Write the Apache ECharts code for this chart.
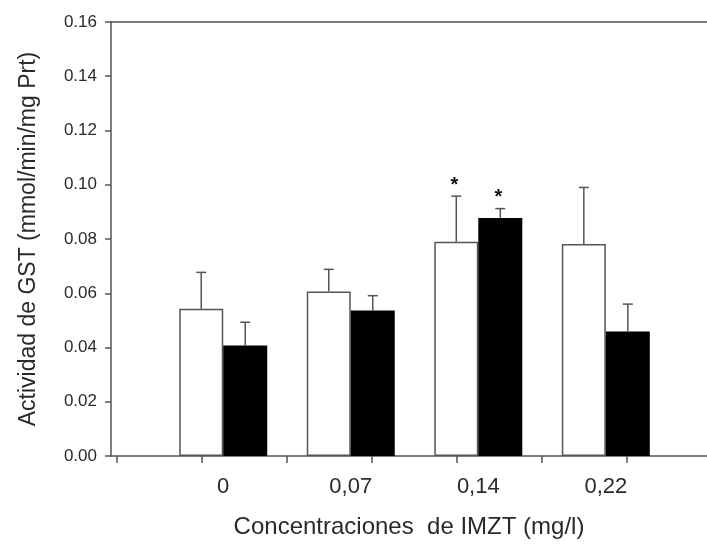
<!DOCTYPE html>
<html>
<head>
<meta charset="utf-8">
<script src="https://cdn.jsdelivr.net/npm/echarts@6/dist/echarts.min.js"></script>
<style>
  html, body { margin: 0; padding: 0; background: #fff; }
  #chart { width: 707px; height: 544px; }
</style>
</head>
<body>
<div id="chart"></div>
<script>
  // categories sit between the plain numeric ticks of the original axis
  const categories = ['0', '0,07', '0,14', '0,22'];
  const catPos = [1.25, 2.75, 4.25, 5.75];
  const xTicks = [0, 1, 2, 3, 4, 5, 6];

  const whiteMean = [0.0543, 0.0606, 0.0790, 0.0782];
  const whiteErr = [0.0134, 0.0082, 0.0168, 0.0208];
  const whiteSig = [false, false, true, false];

  const blackMean = [0.0407, 0.0536, 0.0877, 0.0459];
  const blackErr = [0.0086, 0.0055, 0.0035, 0.0101];
  const blackSig = [false, false, true, false];

  const BAR_W = 44;
  const lineColor = '#555';
  const textColor = '#2a2a2a';
  const font = 'Liberation Sans, Arial, sans-serif';

  function errSeries(mean, err, sig, side) {
    return {
      type: 'custom',
      xAxisIndex: 0,
      yAxisIndex: 0,
      z: 3,
      data: mean.map(function (m, i) { return [catPos[i], m, m + err[i], sig[i] ? 1 : 0]; }),
      renderItem: function (params, api) {
        let base = api.coord([api.value(0), api.value(1)]);
        let top = api.coord([api.value(0), api.value(2)]);
        let x = base[0] + side * BAR_W / 2;
        let style = { stroke: lineColor, lineWidth: 1.5 };
        let children = [
          { type: 'line', shape: { x1: x, y1: base[1], x2: x, y2: top[1] }, style: style },
          { type: 'line', shape: { x1: x - 5, y1: top[1], x2: x + 5, y2: top[1] }, style: style }
        ];
        if (api.value(3)) {
          children.push({
            type: 'text',
            style: {
              text: '*', x: x - 2, y: top[1] - 1,
              align: 'center', verticalAlign: 'bottom',
              font: 'bold 20px ' + font, fill: '#111'
            }
          });
        }
        return { type: 'group', children: children };
      }
    };
  }

  const chart = echarts.init(document.getElementById('chart'));
  chart.setOption({
    animation: false,
    backgroundColor: '#fff',
    grid: { left: 111, top: 22, width: 596, height: 438 },
    xAxis: [{
      type: 'value',
      min: -0.07,
      max: 6.94,
      position: 'bottom',
      name: 'Concentraciones  de IMZT (mg/l)',
      nameLocation: 'middle',
      nameGap: 59,
      nameTextStyle: { fontFamily: font, fontSize: 24, color: textColor },
      axisLine: { onZero: false, lineStyle: { color: lineColor, width: 1.5 } },
      axisTick: { show: true, customValues: xTicks, length: 7, inside: false,
                  lineStyle: { color: lineColor, width: 1.5 } },
      axisLabel: {
        customValues: catPos,
        margin: 20,
        fontFamily: font, fontSize: 22, color: textColor,
        formatter: function (v) {
          let i = catPos.findIndex(function (p) { return Math.abs(p - v) < 1e-6; });
          return i >= 0 ? categories[i] : '';
        }
      },
      splitLine: { show: false }
    }, {
      type: 'value',
      min: -0.07,
      max: 6.94,
      position: 'top',
      axisLine: { show: true, onZero: false, lineStyle: { color: lineColor, width: 1.5 } },
      axisTick: { show: false },
      axisLabel: { show: false },
      splitLine: { show: false }
    }],
    yAxis: {
      type: 'value',
      min: 0,
      max: 0.16,
      interval: 0.02,
      name: 'Actividad de GST (mmol/min/mg Prt)',
      nameLocation: 'middle',
      nameGap: 71,
      nameTextStyle: { fontFamily: font, fontSize: 23, color: textColor },
      axisLine: { show: true, onZero: false, lineStyle: { color: lineColor, width: 1.5 } },
      axisTick: { show: true, length: 6, lineStyle: { color: lineColor, width: 1.5 } },
      axisLabel: {
        margin: 14, fontFamily: font, fontSize: 17, color: textColor,
        formatter: function (v) { return v.toFixed(2); }
      },
      splitLine: { show: false }
    },
    series: [{
      type: 'bar',
      name: 'white',
      barWidth: BAR_W,
      barGap: '0%',
      data: whiteMean.map(function (m, i) { return [catPos[i], m]; }),
      itemStyle: { color: '#fff', borderColor: lineColor, borderWidth: 1.5 }
    }, {
      type: 'bar',
      name: 'black',
      barWidth: BAR_W,
      barGap: '0%',
      data: blackMean.map(function (m, i) { return [catPos[i], m]; }),
      itemStyle: { color: '#000', borderColor: '#000', borderWidth: 0 }
    },
    errSeries(whiteMean, whiteErr, whiteSig, -1),
    errSeries(blackMean, blackErr, blackSig, 1)
    ]
  });
</script>
</body>
</html>
